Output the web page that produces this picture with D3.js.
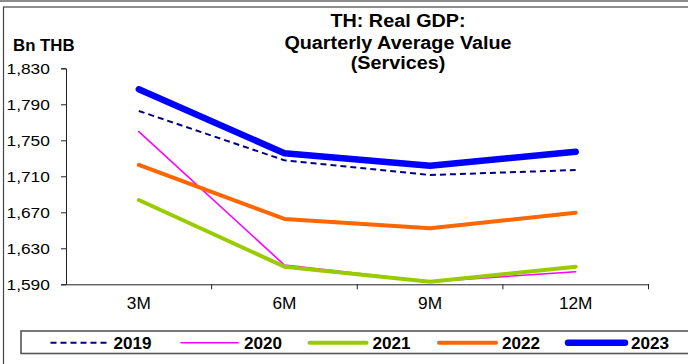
<!DOCTYPE html>
<html><head><meta charset="utf-8">
<script src="https://cdn.jsdelivr.net/npm/d3@7"></script>
<style>
body{margin:0;background:#fff}
svg{display:block}
text{font-family:"Liberation Sans",Arial,Helvetica,sans-serif;fill:#000}
</style>
</head><body>
<svg id="chart" width="688" height="364"></svg>
<script>
// Real GDP, services sector, quarterly average value (Bn THB)
const periods = ["3M", "6M", "9M", "12M"];
const years = ["2019", "2020", "2021", "2022", "2023"];
const gdp2019 = [1782.6, 1727.8, 1711.4, 1717];
const gdp2020 = [1759.6, 1611.4, 1593, 1604];
const gdp2021 = [1683.7, 1609.6, 1592.9, 1609.6];
const gdp2022 = [1722.6, 1662.6, 1652.2, 1669.6];
const gdp2023 = [1806.7, 1735.6, 1721.8, 1737.3];
const yTicks = [1590, 1630, 1670, 1710, 1750, 1790, 1830];

const seriesData = [gdp2019, gdp2020, gdp2021, gdp2022, gdp2023];
const seriesStyle = [
  {color: "#000080", width: 2, dash: "6,4"},
  {color: "#ff00ff", width: 1.6, dash: null},
  {color: "#99cc00", width: 4, dash: null},
  {color: "#ff6600", width: 4, dash: null},
  {color: "#0000ff", width: 6.5, dash: null}
];

const svg = d3.select("#chart");
const W = 688, H = 364;
const plot = {left: 66, right: 648.5, top: 68.3, bottom: 284.3};

// frame
svg.append("line").attr("x1", 0).attr("x2", W).attr("y1", 1).attr("y2", 1)
  .attr("stroke", "#8c8c8c").attr("stroke-width", 2);
svg.append("rect").attr("x", 3.5).attr("y", 7).attr("width", W + 10).attr("height", H)
  .attr("fill", "none").attr("stroke", "#444").attr("stroke-width", 1.2);

const x = d3.scaleBand().domain(periods).range([plot.left, plot.right]);
const y = d3.scaleLinear().domain([1590, 1830]).range([plot.bottom, plot.top]);

// y axis
const yAxis = svg.append("g").attr("transform", `translate(${plot.left},0)`)
  .call(d3.axisLeft(y).tickValues(yTicks).tickSize(5).tickPadding(8)
    .tickFormat(d3.format(",")));
yAxis.select(".domain").attr("stroke", "#222");
yAxis.selectAll(".tick line").attr("stroke", "#222");
yAxis.selectAll(".tick text")
  .style("font-size", "15.5px")
  .attr("text-anchor", "start")
  .attr("x", null).attr("dy", null)
  .attr("transform", `translate(${6.5 - plot.left},5.6) scale(1.12,1)`);

// x axis
const xAxis = svg.append("g").attr("transform", `translate(0,${plot.bottom})`)
  .call(d3.axisBottom(x).tickSize(0).tickPadding(0));
xAxis.select(".domain").attr("stroke", "#222");
xAxis.selectAll(".tick text")
  .style("font-size", "16px")
  .attr("y", null).attr("dy", null)
  .attr("transform", "translate(0,24.7) scale(1.08,1)");
// tick marks between categories
svg.append("g").selectAll("line")
  .data(periods.map(p => x(p) + x.bandwidth()))
  .join("line")
  .attr("x1", d => d).attr("x2", d => d)
  .attr("y1", plot.bottom).attr("y2", plot.bottom + 5)
  .attr("stroke", "#222");

// series lines
const line = d3.line()
  .x((d, i) => x(periods[i]) + x.bandwidth() / 2)
  .y(d => y(d));

svg.append("g").selectAll("path")
  .data(seriesData)
  .join("path")
  .attr("d", d => line(d))
  .attr("fill", "none")
  .attr("stroke", (d, i) => seriesStyle[i].color)
  .attr("stroke-width", (d, i) => seriesStyle[i].width)
  .attr("stroke-dasharray", (d, i) => seriesStyle[i].dash)
  .attr("stroke-linecap", (d, i) => seriesStyle[i].dash ? "butt" : "round")
  .attr("stroke-linejoin", "round");

// title
const title = ["TH: Real GDP:", "Quarterly Average Value", "(Services)"];
const titleY = [27.3, 49.2, 69];
svg.append("g").selectAll("text").data(title).join("text")
  .attr("text-anchor", "middle")
  .attr("transform", (d, i) => `translate(398,${titleY[i]}) scale(1.07,1)`)
  .style("font-size", "18.5px").style("font-weight", "bold")
  .text(d => d);

svg.append("text").attr("transform", "translate(13,50.8) scale(1.02,1)")
  .style("font-size", "16.5px").style("font-weight", "bold").text("Bn THB");

// legend
svg.append("rect").attr("x", 21).attr("y", 331).attr("width", W).attr("height", 22.5)
  .attr("fill", "none").attr("stroke", "#555").attr("stroke-width", 1.6);
const legX = [50.5, 181, 309.5, 439, 568];
const legY = 342.7;
const leg = svg.append("g").selectAll("g").data(years).join("g")
  .attr("transform", (d, i) => `translate(${legX[i]},${legY})`);
leg.append("line")
  .attr("x1", 0).attr("x2", 57)
  .attr("stroke", (d, i) => seriesStyle[i].color)
  .attr("stroke-width", (d, i) => seriesStyle[i].width)
  .attr("stroke-dasharray", (d, i) => seriesStyle[i].dash)
  .attr("stroke-linecap", (d, i) => seriesStyle[i].dash ? "butt" : "round");
leg.append("text")
  .attr("transform", "translate(63,6.3) scale(1.07,1)")
  .style("font-size", "16px").style("font-weight", "bold").text(d => d);
</script>
</body></html>
